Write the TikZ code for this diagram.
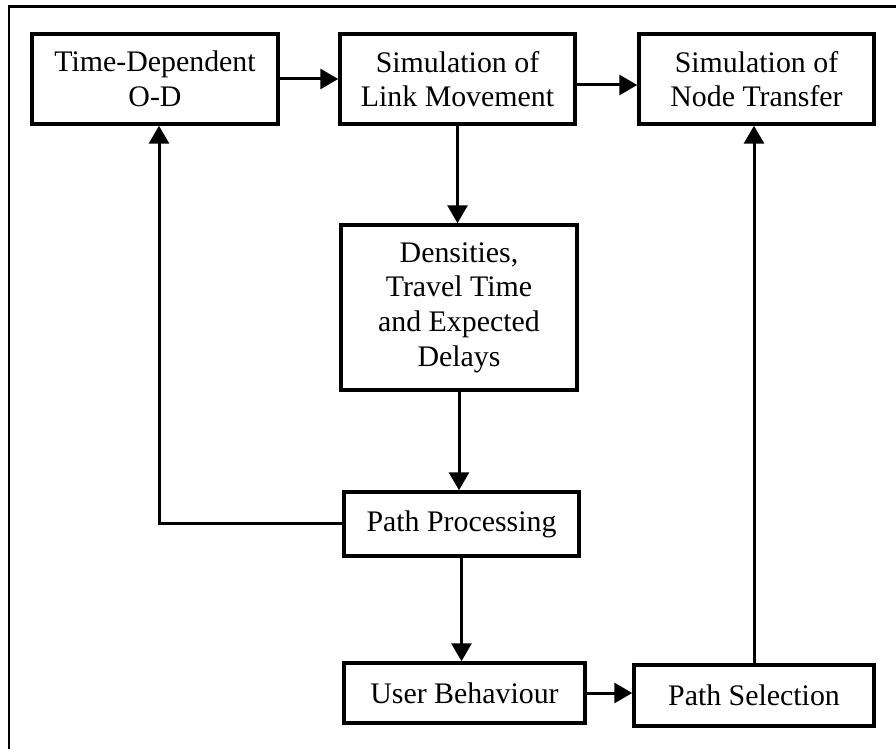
\documentclass[tikz,border=0pt]{standalone}
\usepackage{fontspec}
\setmainfont{Liberation Serif}
\usetikzlibrary{arrows.meta,calc}

\begin{document}
\begin{tikzpicture}[x=0.02cm, y=-0.02cm,
    box/.style={draw, line width=0.7mm, align=center, inner sep=0pt,
        font=\fontsize{17}{19.7}\selectfont},
    arr/.style={line width=0.6mm, -{Triangle[length=0.36cm,width=0.4cm]}},
    frameline/.style={line width=0.6mm}]

    \useasboundingbox (0,0) rectangle (896,749);
    \draw [frameline] (9,749) -- (9,7) -- (896,7);

    % top row
    \draw (155,79) node[box, minimum width=4.92cm, minimum height=1.8cm](od){Time-Dependent\\O-D};
    \draw (457.5,79) node[box, minimum width=4.7cm, minimum height=1.8cm](linkmov){Simulation of\\Link Movement};
    \draw (756.5,79) node[box, minimum width=4.7cm, minimum height=1.8cm](nodetr){Simulation of\\Node Transfer};

    % middle column
    \draw (459,307.5) node[box, minimum width=4.72cm, minimum height=3.3cm](dens){Densities,\\Travel Time\\and Expected\\Delays};
    \draw (461.5,524) node[box, minimum width=4.7cm, minimum height=1.28cm](pathproc){Path Processing};

    % bottom row
    \draw (464.5,693) node[box, minimum width=4.82cm, minimum height=1.2cm](userbeh){User Behaviour};
    \draw (754,695.5) node[box, minimum width=4.8cm, minimum height=1.22cm](pathsel){Path Selection};

    \draw [arr] (od.east) -- (od.east -| linkmov.west);
    \draw [arr] ([yshift=-0.12cm]linkmov.east) -- ([yshift=-0.12cm]linkmov.east -| nodetr.west);
    \draw [arr] (linkmov.south) -- (linkmov.south |- dens.north);
    \draw [arr] (dens.south) -- (dens.south |- pathproc.north);
    \draw [arr] (pathproc.west) -| ([xshift=0.08cm]od.south);
    \draw [arr] (pathproc.south) -- (pathproc.south |- userbeh.north);
    \draw [arr] (userbeh.east) -- (userbeh.east -| pathsel.west);
    \draw [arr] (pathsel.north) -- (pathsel.north |- nodetr.south);

\end{tikzpicture}
\end{document}
